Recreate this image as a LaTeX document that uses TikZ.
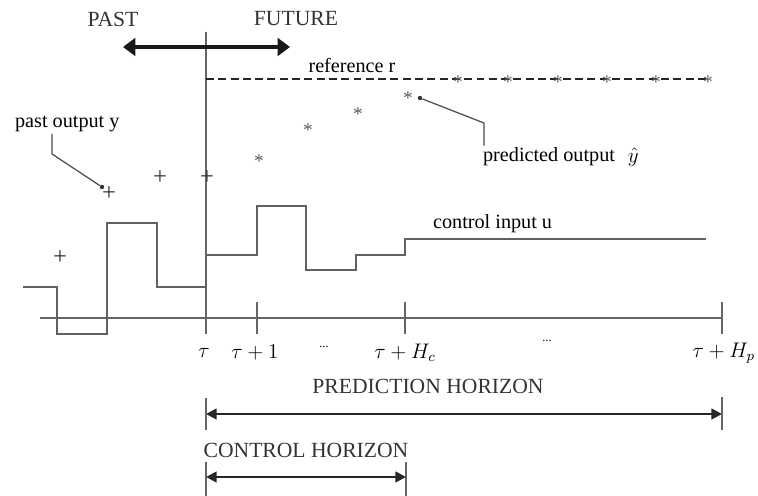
\documentclass[tikz,border=0pt]{standalone}
\usepackage{fontspec}
\setmainfont{Liberation Serif}
\usetikzlibrary{arrows.meta}

\begin{document}
\begin{tikzpicture}[x=0.02cm, y=-0.02cm,
    lbl/.style={font=\fontsize{11.5}{13}\selectfont, inner sep=1pt},
    caps/.style={font=\fontsize{12.3}{14}\selectfont, text=black!80, inner sep=1pt},
    mrk/.style={font=\fontsize{11}{12}\selectfont, text=black!65, inner sep=0pt},
    axisline/.style={draw=black!60, line width=0.8pt},
    ctrl/.style={draw=black!62, line width=1pt},
    tick/.style={draw=black!60, line width=0.8pt},
    leader/.style={draw=black!70, line width=0.7pt},
    tip/.style={circle, fill=black!80, inner sep=0pt, minimum size=2.5pt},
    horizon/.style={{Triangle[length=6pt,width=6pt]}-{Triangle[length=6pt,width=6pt]}, line width=1.4pt, draw=black!85},
    pastfut/.style={{Triangle[length=7pt,width=10pt]}-{Triangle[length=7pt,width=10pt]}, line width=2.6pt, draw=black!90}
]
\useasboundingbox (0,0) rectangle (758,496);

% time axis and present instant
\coordinate (ax0) at (40,318);
\coordinate (ax1) at (722,318);
\coordinate (now top) at (206,32);
\coordinate (now bot) at (206,334);
\draw[axisline] (ax0) -- (ax1);
\draw[axisline] (now top) -- (now bot);
\foreach \x/\n in {257/k1, 405/kc, 722/kp}
  \draw[tick] (\x,302) coordinate (\n) -- (\x,334);

% axis labels
\node[lbl] (tau) at (204,353) {$\tau$};
\node[lbl] (tau1) at (255,353) {$\tau+1$};
\node[lbl, font=\scriptsize] (dots1) at (324,347) {...};
\node[lbl] (tauc) at (405,353) {$\tau+H_c$};
\node[lbl, font=\scriptsize] (dots2) at (547,341) {...};
\node[lbl, anchor=east] (taup) at (757,353) {$\tau+H_p$};

% past / future
\node[caps] (past) at (113,19) {PAST};
\node[caps] (future) at (296,19) {FUTURE};
\coordinate (pf0) at (123,47);
\coordinate (pf1) at (290,47);
\draw[pastfut] (pf0) -- (pf1);

% reference
\coordinate (ref0) at (206,79);
\coordinate (ref1) at (710,79);
\draw[draw=black!85, line width=1pt, dash pattern=on 4.5pt off 2.5pt] (ref0) -- (ref1);
\node[lbl] (reflbl) at (352,65) {reference r};
\foreach \x [count=\i] in {458,508,558,607,656,708}
  \node[mrk] (r\i) at (\x,82) {*};

% predicted output
\foreach \x/\y [count=\i] in {259/158, 308/127, 358/111, 408/95}
  \node[mrk] (yh\i) at (\x,\y+3) {*};
\node[lbl, anchor=west] (predlbl) at (481,157) {predicted output};
\node[lbl, anchor=west] (yhat) at ([xshift=5pt]predlbl.east) {$\hat{y}$};
\coordinate (pk) at (484,123);
\node[tip] (pdot) at (420,98) {};
\draw[leader] (predlbl.north -| pk) -- (pk) -- (pdot);

% past output
\foreach \x/\y [count=\i] in {109/194, 160/178, 207/178, 60/258}
  \node[mrk, text=black!80, font=\fontsize{14}{14}\selectfont] (yp\i) at (\x,\y) {+};
\node[lbl, anchor=west] (pastlbl) at (13,124) {past output y};
\coordinate (yk) at (52,154);
\node[tip] (ydot) at (102,187) {};
\draw[leader] (pastlbl.south -| yk) -- (yk) -- (ydot);

% control input
\draw[ctrl] (23,287) -| (57,334) -| (107,223) -| (157,287) -| (206,255)
  -| (257,206) -| (306,270) -| (356,255) -| (405,239) -- (706,239);
\node[lbl, anchor=west] (ulbl) at (431,224) {control input u};

% prediction horizon
\node[caps] (predh) at (428,386) {PREDICTION HORIZON};
\coordinate (ph0) at (206,414);
\coordinate (ph1) at (722,414);
\draw[tick] (206,398) -- (206,430);
\draw[tick] (722,397) -- (722,430);
\draw[horizon] (ph0) -- (ph1);

% control horizon
\node[caps] (ctrlh) at (306,450) {CONTROL HORIZON};
\coordinate (ch0) at (206,477);
\coordinate (ch1) at (406,477);
\draw[tick] (206,462) -- (206,496);
\draw[tick] (406,462) -- (406,496);
\draw[horizon] (ch0) -- (ch1);

\end{tikzpicture}
\end{document}
